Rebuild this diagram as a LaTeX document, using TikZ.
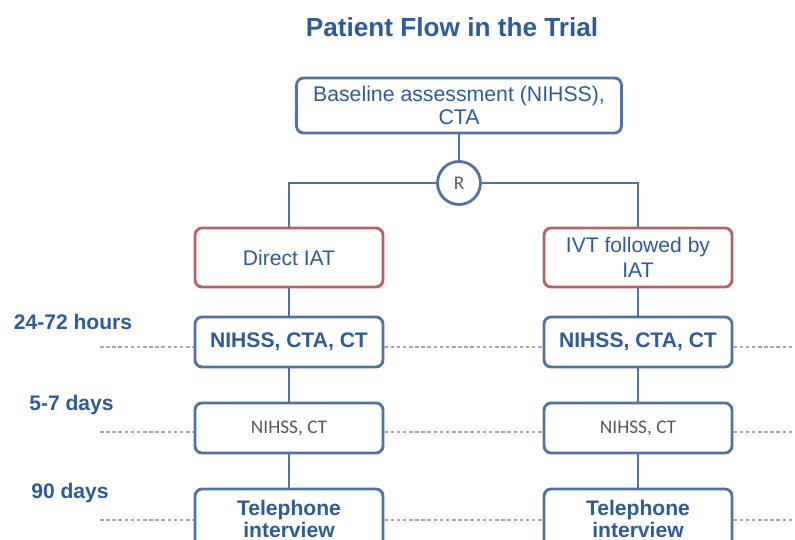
\documentclass[tikz,border=0pt]{standalone}
\usepackage{fontspec}
\setmainfont{Liberation Sans}
\newfontfamily\calfont{Carlito}
\usetikzlibrary{positioning}
\definecolor{flowblue}{HTML}{2E5B9A}
\definecolor{edgeblue}{HTML}{5272A3}
\definecolor{armred}{HTML}{BA5F66}
\definecolor{dotgray}{HTML}{A8A8A8}
\definecolor{notegray}{HTML}{5A5A5A}

\begin{document}
\begin{tikzpicture}[x=0.02cm, y=-0.02cm,
	box/.style={draw=edgeblue, line width=1.6pt, rounded corners=4pt, fill=white, align=center, text=flowblue, minimum width=3.76cm, inner sep=2pt},
	armbox/.style={box, draw=armred, minimum height=1.18cm, font=\fontsize{12}{14}\selectfont},
	visit/.style={box, minimum height=1cm},
	link/.style={draw=edgeblue, line width=1.6pt},
	timeline/.style={dotgray, line width=0.6pt, dash pattern=on 2pt off 1.5pt},
	when/.style={text=flowblue, font=\bfseries\fontsize{12}{14}\selectfont}]
		\useasboundingbox (0,0) rectangle (795,540);
		\clip (0,0) rectangle (795,540);
		
		% Title
		\node[text=flowblue, font=\bfseries\fontsize{14.9}{17}\selectfont] (title) at (452,27) {Patient Flow in the Trial};
		
		% Baseline and randomisation
		\node[box, minimum width=6.5cm, minimum height=1.1cm, font=\fontsize{12.1}{13}\selectfont] (base) at (459,105.5) {Baseline assessment (NIHSS),\\CTA};
		\node[circle, draw=edgeblue, line width=1.6pt, fill=white, minimum size=0.86cm, inner sep=0pt, text=notegray, font=\calfont\fontsize{11}{12}\selectfont] (rand) at (459,183) {R};
		
		% Treatment arms
		\node[armbox] (iat) at (289,257.5) {Direct IAT};
		\node[armbox] (ivt) at (638,257.5) {IVT followed by\\IAT};
		
		% Follow-up visits
		\node[visit, font=\bfseries\fontsize{12}{14}\selectfont] (ctaL) at (289,342) {NIHSS, CTA, CT};
		\node[visit, font=\bfseries\fontsize{12}{14}\selectfont] (ctaR) at (638,342) {NIHSS, CTA, CT};
		\node[visit, text=notegray, font=\calfont\fontsize{11}{13}\selectfont] (ctL) at (289,428) {NIHSS, CT};
		\node[visit, text=notegray, font=\calfont\fontsize{11}{13}\selectfont] (ctR) at (638,428) {NIHSS, CT};
		\node[visit, minimum height=1.2cm, font=\bfseries\fontsize{12}{13}\selectfont] (telL) at (289,519) {Telephone\\interview};
		\node[visit, minimum height=1.2cm, font=\bfseries\fontsize{12}{13}\selectfont] (telR) at (638,519) {Telephone\\interview};
		
		% Time points
		\node[when] (t1) at (73,322) {24-72 hours};
		\node[when] (t2) at (71.5,405) {5-7 days};
		\node[when] (t3) at (70,493) {90 days};
		
		% Time lines
		\coordinate (a1) at (100,347);
		\coordinate (b1) at (795,347);
		\coordinate (a2) at (100,432);
		\coordinate (b2) at (795,432);
		\coordinate (a3) at (100,520);
		\coordinate (b3) at (795,520);
		\draw[timeline] (a1) -- (ctaL.west |- a1) (ctaL.east |- a1) -- (ctaR.west |- a1) (ctaR.east |- a1) -- (b1);
		\draw[timeline] (a2) -- (ctL.west |- a2) (ctL.east |- a2) -- (ctR.west |- a2) (ctR.east |- a2) -- (b2);
		\draw[timeline] (a3) -- (telL.west |- a3) (telL.east |- a3) -- (telR.west |- a3) (telR.east |- a3) -- (b3);
		
		% Connectors
		\draw[link] (base) -- (rand);
		\draw[link] (rand.west) -| (iat.north);
		\draw[link] (rand.east) -| (ivt.north);
		\draw[link] (iat) -- (ctaL) (ctaL) -- (ctL) (ctL) -- (telL);
		\draw[link] (ivt) -- (ctaR) (ctaR) -- (ctR) (ctR) -- (telR);
\end{tikzpicture}
\end{document}
